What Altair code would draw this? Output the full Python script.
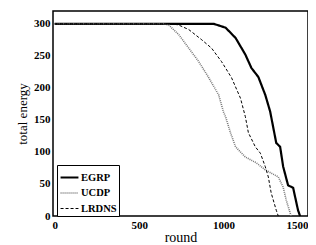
import altair as alt
import pandas as pd

egrp_x = [0, 941, 1012, 1071, 1129, 1165, 1206, 1247, 1276, 1312, 1335, 1353, 1382, 1412, 1441, 1453]
egrp_y = [300, 300, 294, 278, 252, 231, 217, 189, 163, 114, 108, 77, 48, 44, 9, 0]

ucdp_x = [0, 647, 676, 735, 794, 853, 912, 971, 1000, 1012, 1041, 1071, 1129, 1194, 1247, 1324, 1353, 1371, 1394, 1400]
ucdp_y = [300, 300, 298, 283, 262, 241, 216, 189, 162, 155, 130, 108, 92, 83, 72, 61, 45, 25, 5, 0]

lrdns_x = [0, 700, 735, 794, 871, 929, 988, 1047, 1100, 1129, 1147, 1188, 1218, 1247, 1265, 1282, 1312, 1324]
lrdns_y = [300, 300, 298, 291, 275, 262, 241, 216, 184, 155, 130, 108, 98, 77, 61, 36, 9, 0]

series = ["EGRP", "UCDP", "LRDNS"]
rows = []
for name, xs, ys in [("EGRP", egrp_x, egrp_y), ("UCDP", ucdp_x, ucdp_y), ("LRDNS", lrdns_x, lrdns_y)]:
    for i, (a, b) in enumerate(zip(xs, ys)):
        rows.append({"series": name, "round": a, "energy": b, "order": i})
df = pd.DataFrame(rows)

font = "Times New Roman, Liberation Serif, Tinos, serif"
legend = alt.Legend(
    title=None, orient="none", legendX=4, legendY=154,
    symbolType="stroke", symbolSize=320, labelFont=font, labelFontSize=10.5,
    labelFontWeight="bold", labelColor="black", strokeColor="black",
    padding=2, rowPadding=0, fillColor="white", labelOffset=1, labelLimit=60,
)

chart = alt.Chart(df).mark_line().encode(
    x=alt.X("round:Q", scale=alt.Scale(domain=[-10, 1500], nice=False),
            axis=alt.Axis(values=[0, 500, 1000, 1500], format="d", title="round", grid=False, ticks=False,
                          labelFont=font, labelFontSize=11, labelFontWeight="bold", labelColor="black",
                          titleFont=font, titleFontSize=14, titleFontWeight="normal", titleColor="black",
                          titlePadding=0, labelPadding=3, domain=False, labelFlush=True)),
    y=alt.Y("energy:Q", scale=alt.Scale(domain=[0, 320], nice=False),
            axis=alt.Axis(values=[0, 50, 100, 150, 200, 250, 300], format="d", title="total energy", grid=False,
                          ticks=False, labelFont=font, labelFontSize=11, labelFontWeight="bold",
                          labelColor="black", titleFont=font, titleFontSize=13, titleFontWeight="normal",
                          titleColor="black", titlePadding=4, labelPadding=3, domain=False)),
    order="order:Q",
    color=alt.Color("series:N", scale=alt.Scale(domain=series, range=["black", "#777777", "black"]), legend=legend),
    strokeDash=alt.StrokeDash("series:N", scale=alt.Scale(domain=series, range=[[1, 0], [1, 1], [3, 2]]), legend=legend),
    strokeWidth=alt.StrokeWidth("series:N", scale=alt.Scale(domain=series, range=[2.2, 1.0, 1.6]), legend=legend),
).properties(
    width=255, height=205, autosize="none",
    padding={"left": 45, "top": 3, "right": 0, "bottom": 30},
).configure_view(stroke="black", strokeWidth=1.5)

chart.save("out.html", embed_options={"renderer": "svg", "actions": False})
